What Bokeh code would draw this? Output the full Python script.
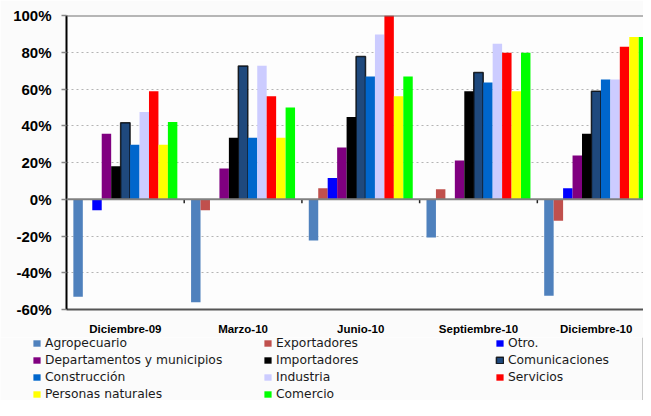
from bokeh.plotting import figure
from bokeh.models import (Range1d, FixedTicker, PrintfTickFormatter, Span,
                          Legend, LegendItem)
from bokeh.embed import file_html
from bokeh.resources import INLINE

periods = ["Diciembre-09", "Marzo-10", "Junio-10", "Septiembre-10", "Diciembre-10"]

series_names = ["Agropecuario", "Exportadores", "Otro.",
                "Departamentos y municipios", "Importadores", "Comunicaciones",
                "Construcción", "Industria", "Servicios",
                "Personas naturales", "Comercio"]

agropecuario = [-53.0, -56.0, -22.4, -20.8, -52.5]
exportadores = [0.0, -6.0, 6.0, 5.5, -11.7]
otro = [-6.0, 0.0, 11.5, 0.0, 6.0]
departamentos = [35.6, 16.8, 28.1, 21.1, 23.8]
importadores = [17.9, 33.5, 44.8, 58.8, 35.6]
comunicaciones = [41.6, 72.5, 77.7, 69.0, 58.8]
construccion = [29.7, 33.5, 66.8, 63.6, 65.2]
industria = [47.5, 72.7, 89.6, 84.6, 65.2]
servicios = [58.8, 56.0, 100.0, 79.7, 83.0]
personas = [29.7, 33.5, 56.0, 58.8, 88.3]
comercio = [42.1, 50.0, 66.8, 79.7, 88.3]

series_values = [agropecuario, exportadores, otro, departamentos, importadores,
                 comunicaciones, construccion, industria, servicios, personas,
                 comercio]

colors = ["#4F81BD", "#C0504D", "#0000FF", "#800080", "#000000", "#1F497D",
          "#0066CC", "#CCCCFF", "#FF0000", "#FFFF00", "#00FF00"]

y_ticks = [-60, -40, -20, 0, 20, 40, 60, 80, 100]

BG = "#fbfbfb"
PLOT_BG = "#fdfdfd"
n_groups = len(periods)
n_series = len(series_names)
bw = 0.0803
W = 643
PH = 337
LH = 63

p = figure(width=W, height=PH, output_backend="svg", toolbar_location=None,
           x_range=Range1d(0, 4.902), y_range=Range1d(-60, 100),
           min_border_left=66, min_border_right=0, min_border_top=15,
           min_border_bottom=PH - 313)
p.background_fill_color = PLOT_BG
p.border_fill_color = BG
p.outline_line_color = None

renderers = []
for j, (name, vals, col) in enumerate(zip(series_names, series_values, colors)):
    xs = [i + 0.5 + (j - (n_series - 1) / 2) * bw for i in range(n_groups)]
    if name == "Comunicaciones":
        r = p.vbar(x=xs, top=vals, bottom=0, width=bw, fill_color=col,
                   line_color="black", line_width=1.5, line_alpha=0.8)
    else:
        r = p.vbar(x=xs, top=vals, bottom=0, width=bw, fill_color=col,
                   line_color=None)
    renderers.append(r)

# zero line, top border and group boundary ticks
p.add_layout(Span(location=0, dimension="width", line_color="#808080", line_width=2))
p.add_layout(Span(location=100, dimension="width", line_color="#707070", line_width=2))
bounds = list(range(1, n_groups))
p.segment(x0=bounds, y0=[0] * len(bounds), x1=bounds, y1=[-2.2] * len(bounds),
          line_color="#222222", line_width=1.5)

# grid
p.xgrid.visible = False
p.ygrid.ticker = FixedTicker(ticks=y_ticks)
p.ygrid.grid_line_color = "#b4b4b4"
p.ygrid.grid_line_dash = "2 3"
p.ygrid.grid_line_width = 1

# y axis
ya = p.yaxis[0]
ya.ticker = FixedTicker(ticks=y_ticks)
ya.formatter = PrintfTickFormatter(format="%d%%")
ya.major_label_text_font = "Liberation Sans"
ya.major_label_text_font_style = "bold"
ya.major_label_text_font_size = "15px"
ya.major_label_text_color = "#000000"
ya.major_tick_out = 5
ya.major_tick_in = 0
ya.major_tick_line_color = "#888888"
ya.major_tick_line_width = 1.5
ya.minor_tick_line_color = None
ya.axis_line_color = "#000000"
ya.axis_line_width = 2
ya.major_label_standoff = 10

# x axis
xa = p.xaxis[0]
xa.ticker = FixedTicker(ticks=[i + 0.5 for i in range(n_groups)])
xa.major_label_overrides = {i + 0.5: periods[i] for i in range(n_groups)}
xa.major_label_text_font = "Liberation Sans"
xa.major_label_text_font_style = "bold"
xa.major_label_text_font_size = "11.5px"
xa.major_label_text_color = "#000000"
xa.major_tick_line_color = None
xa.minor_tick_line_color = None
xa.axis_line_color = "#555555"
xa.axis_line_width = 2
xa.major_label_standoff = 7

# legend strip below the chart (separate root, no frame alignment)
q = figure(width=W, height=LH, output_backend="svg", toolbar_location=None,
           x_range=Range1d(0, 1), y_range=Range1d(0, 1),
           x_axis_location=None, y_axis_location=None,
           min_border=0, min_border_left=0, min_border_right=0,
           min_border_top=0, min_border_bottom=0)
q.grid.visible = False
q.outline_line_color = None
q.background_fill_color = BG
q.border_fill_color = BG

proxies = []
for name, col in zip(series_names, colors):
    # proxy glyphs (outside the visible range) carrying each series' style
    if name == "Comunicaciones":
        r = q.vbar(x=[5], top=[1], width=0.1, fill_color=col,
                   line_color="black", line_width=1.5, line_alpha=0.8)
    else:
        r = q.vbar(x=[5], top=[1], width=0.1, fill_color=col, line_color=None)
    proxies.append(r)

columns = [[0, 3, 6, 9], [1, 4, 7, 10], [2, 5, 8]]
col_x = [32, 263, 495]
lab_h = 14
spc = 3
leg_top = -1
for cols, vx in zip(columns, col_x):
    items = [LegendItem(label=series_names[k], renderers=[proxies[k]]) for k in cols]
    h = len(cols) * lab_h + (len(cols) - 1) * spc
    vy = LH - h - leg_top
    leg = Legend(items=items, location=(vx, vy), orientation="vertical",
                 glyph_width=9, glyph_height=8, label_standoff=4,
                 label_height=lab_h, spacing=spc, padding=0, margin=0,
                 border_line_alpha=0, background_fill_alpha=0,
                 label_text_font="DejaVu Sans", label_text_font_size="12.3px",
                 label_text_color="#1a1a1a")
    q.add_layout(leg, "center")

open("out.html", "w").write(file_html([p, q], INLINE))
